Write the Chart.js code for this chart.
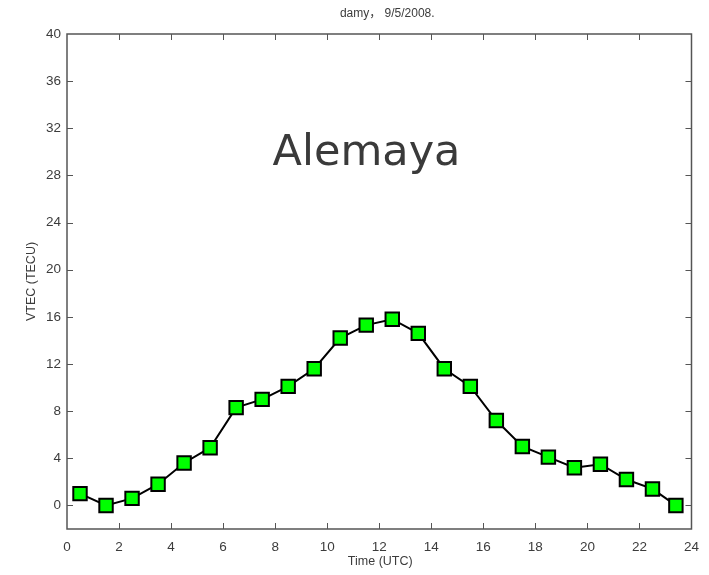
<!DOCTYPE html>
<html>
<head>
<meta charset="utf-8">
<script src="https://cdn.jsdelivr.net/npm/chart.js@4.4.0/dist/chart.umd.min.js"></script>
<style>
  html, body { margin: 0; padding: 0; background: #fff; }
  #wrap { width: 709px; height: 575px; }
</style>
</head>
<body>
<div id="wrap"><canvas id="tecChart" width="709" height="575"></canvas></div>
<script>
// hourly VTEC over the station
var hours = [0.5, 1.5, 2.5, 3.5, 4.5, 5.5, 6.5, 7.5, 8.5, 9.5, 10.5, 11.5,
             12.5, 13.5, 14.5, 15.5, 16.5, 17.5, 18.5, 19.5, 20.5, 21.5, 22.5, 23.4];
var vtec = [1.0, 0.0, 0.6, 1.8, 3.6, 4.9, 8.3, 9.0, 10.1, 11.6, 14.2, 15.3,
            15.8, 14.6, 11.6, 10.1, 7.2, 5.0, 4.1, 3.2, 3.5, 2.2, 1.4, 0.0];
var xTicks = [0, 2, 4, 6, 8, 10, 12, 14, 16, 18, 20, 22, 24];
var yTicks = [0, 4, 8, 12, 16, 20, 24, 28, 32, 36, 40];

var chartTitle = 'damy\uFF0C 9/5/2008.';
var stationName = 'Alemaya';
var xTitle = 'Time (UTC)';
var yTitle = 'VTEC (TECU)';

var textColor = '#3c3c3c';
var frameColor = '#555';

// matlab-style frame: box on all sides, ticks pointing inward, plus the texts
var frameAndText = {
    id: 'frameAndText',
    afterDraw: function(chart){
        var ctx = chart.ctx;
        var area = chart.chartArea;
        var xs = chart.scales.x, ys = chart.scales.y;
        ctx.save();
        ctx.strokeStyle = frameColor;
        ctx.lineWidth = 1.5;
        ctx.strokeRect(area.left, area.top, area.right - area.left, area.bottom - area.top);

        ctx.lineWidth = 1;
        ctx.beginPath();
        xTicks.forEach(function(v){
            if(v === xs.min || v === xs.max) return;
            var px = Math.round(xs.getPixelForValue(v)) + 0.5;
            ctx.moveTo(px, area.bottom); ctx.lineTo(px, area.bottom - 6);
            ctx.moveTo(px, area.top); ctx.lineTo(px, area.top + 6);
        });
        yTicks.forEach(function(v){
            if(v === ys.max) return;
            var py = Math.round(ys.getPixelForValue(v)) + 0.5;
            ctx.moveTo(area.left, py); ctx.lineTo(area.left + 6, py);
            ctx.moveTo(area.right, py); ctx.lineTo(area.right - 6, py);
        });
        ctx.stroke();

        var cx = (area.left + area.right) / 2;
        ctx.fillStyle = textColor;
        ctx.textAlign = 'center';
        ctx.textBaseline = 'alphabetic';
        ctx.font = '12px "Liberation Sans", "Noto Sans CJK SC", sans-serif';
        ctx.fillText(chartTitle, cx + 8, 17);

        ctx.font = '12.5px "Liberation Sans", sans-serif';
        ctx.fillText(xTitle, cx + 1, 565);

        ctx.save();
        ctx.translate(35, (area.top + area.bottom) / 2);
        ctx.rotate(-Math.PI / 2);
        ctx.fillText(yTitle, 0, 0);
        ctx.restore();

        ctx.fillStyle = '#3a3a3a';
        ctx.font = '43px "DejaVu Sans", sans-serif';
        ctx.fillText(stationName, 366.5, 165);
        ctx.restore();
    }
};

window.onload = function(){
    var canvas = document.getElementById('tecChart').getContext('2d');
    var points = hours.map(function(h, i){ return { x: h, y: vtec[i] }; });

    new Chart(canvas, {
        type: 'line',
        data: {
            datasets: [{
                data: points,
                borderColor: '#000',
                borderWidth: 2,
                pointStyle: 'rect',
                pointRadius: 9.5,
                pointBackgroundColor: '#00ff00',
                pointBorderColor: '#000',
                pointBorderWidth: 2,
                tension: 0,
                fill: false
            }]
        },
        options: {
            responsive: false,
            animation: false,
            events: [],
            layout: { padding: { left: 0, right: 15, top: 34, bottom: 0 } },
            plugins: {
                legend: { display: false },
                tooltip: { enabled: false },
                title: { display: false }
            },
            scales: {
                x: {
                    type: 'linear',
                    min: 0,
                    max: 24,
                    afterBuildTicks: function(scale){
                        scale.ticks = xTicks.map(function(v){ return { value: v }; });
                    },
                    afterFit: function(scale){ scale.height = 46; },
                    grid: { drawOnChartArea: false, drawTicks: false },
                    border: { display: false },
                    ticks: {
                        padding: 10,
                        color: textColor,
                        maxRotation: 0,
                        autoSkip: false,
                        font: { family: '"Liberation Sans", sans-serif', size: 13.5 }
                    }
                },
                y: {
                    min: -2,
                    max: 40,
                    afterBuildTicks: function(scale){
                        scale.ticks = yTicks.map(function(v){ return { value: v }; });
                    },
                    afterFit: function(scale){ scale.width = 67; },
                    grid: { drawOnChartArea: false, drawTicks: false },
                    border: { display: false },
                    ticks: {
                        padding: 6,
                        color: textColor,
                        autoSkip: false,
                        font: { family: '"Liberation Sans", sans-serif', size: 13.5 }
                    }
                }
            }
        },
        plugins: [frameAndText]
    });
};
</script>
</body>
</html>
